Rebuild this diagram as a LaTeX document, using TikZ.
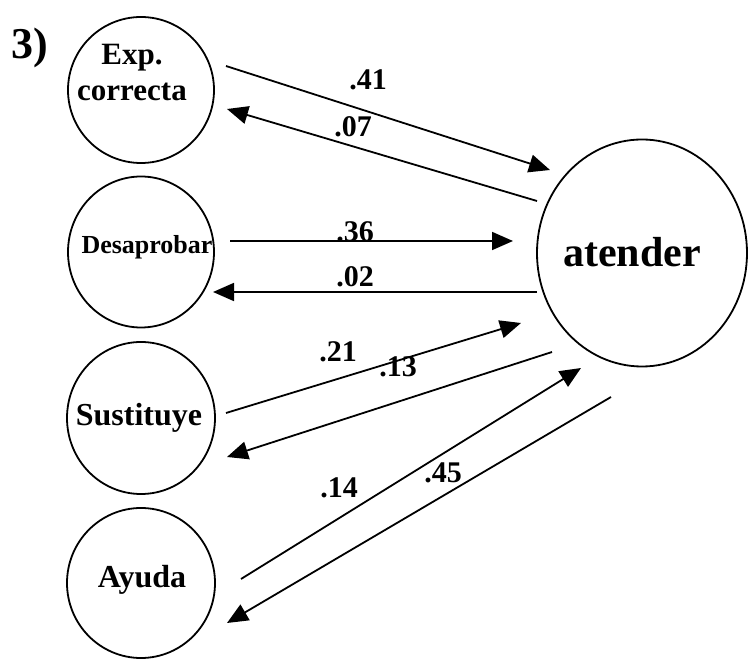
\documentclass[tikz,border=0pt]{standalone}
\usepackage{fontspec}
\setmainfont{Liberation Serif}
\usetikzlibrary{arrows.meta,shapes.geometric}
\begin{document}
\begin{tikzpicture}[x=1pt,y=-1pt,
  var/.style={draw,line width=1.8pt,ellipse,inner sep=0pt},
  txt/.style={font=\bfseries,inner sep=0pt,align=center},
  coef/.style={font=\bfseries\fontsize{30}{30}\selectfont,inner sep=0pt},
  path/.style={line width=1.8pt,-{Triangle[length=21pt,width=18pt]}}]
\useasboundingbox (0,0) rectangle (748,660);

% predictor variables on the left
\node[var,minimum width=146pt,minimum height=146pt] (exp) at (141,90) {};
\node[var,minimum width=146pt,minimum height=151pt] (des) at (141,252) {};
\node[var,minimum width=148pt,minimum height=152pt] (sus) at (141,418) {};
\node[var,minimum width=148pt,minimum height=150pt] (ayu) at (141,583) {};
% outcome variable
\node[var,minimum width=210pt,minimum height=227pt] (ate) at (642,253) {};

\node[txt,font=\bfseries\fontsize{31}{36}\selectfont] (expt) at (132,73) {Exp.\\correcta};
\node[txt,font=\bfseries\fontsize{26}{26}\selectfont] (dest) at (147,247) {Desaprobar};
\node[txt,font=\bfseries\fontsize{32}{32}\selectfont] (sust) at (139,418) {Sustituye};
\node[txt,font=\bfseries\fontsize{32}{32}\selectfont] (ayut) at (142,580) {Ayuda};
\node[txt,font=\bfseries\fontsize{42}{42}\selectfont] (atet) at (632,252) {atender};
\node[txt,font=\bfseries\fontsize{44}{44}\selectfont] (num) at (30,48) {3)};

% arrow end points
\coordinate (a1) at (226,66);  \coordinate (b1) at (550,170);
\coordinate (a2) at (537,201); \coordinate (b2) at (227,109);
\coordinate (a3) at (230,241); \coordinate (b3) at (513,241);
\coordinate (a4) at (537,292); \coordinate (b4) at (213,292);
\coordinate (a5) at (226,413); \coordinate (b5) at (521,323);
\coordinate (a6) at (552,352); \coordinate (b6) at (227,457);
\coordinate (a7) at (241,579); \coordinate (b7) at (581,368);
\coordinate (a8) at (611,397); \coordinate (b8) at (227,623);

\draw[path] (a1) -- (b1);
\draw[path] (a2) -- (b2);
\draw[path] (a3) -- (b3);
\draw[path] (a4) -- (b4);
\draw[path] (a5) -- (b5);
\draw[path] (a6) -- (b6);
\draw[path] (a7) -- (b7);
\draw[path] (a8) -- (b8);

% path coefficients
\node[coef] (c1) at (368,80) {.41};
\node[coef] (c2) at (353,127) {.07};
\node[coef] (c3) at (355,232) {.36};
\node[coef] (c4) at (355,277) {.02};
\node[coef] (c5) at (338,352) {.21};
\node[coef] (c6) at (398,367) {.13};
\node[coef] (c7) at (339,488) {.14};
\node[coef] (c8) at (443,473) {.45};
\end{tikzpicture}
\end{document}
